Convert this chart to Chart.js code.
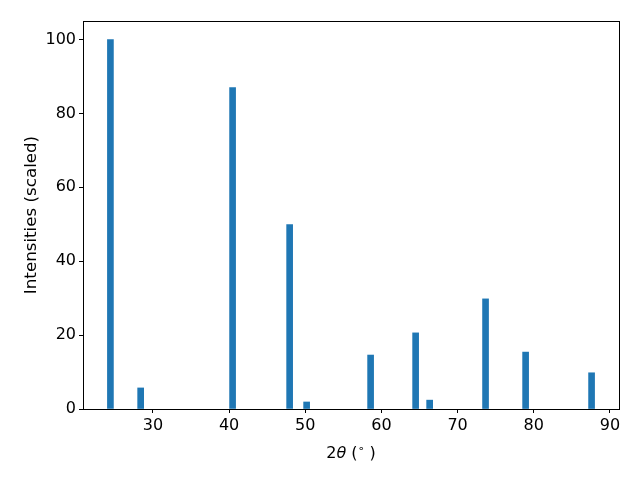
<!DOCTYPE html>
<html>
<head>
<meta charset="utf-8">
<script src="https://cdn.jsdelivr.net/npm/chart.js@4/dist/chart.umd.min.js"></script>
<style>
  html, body { margin: 0; padding: 0; background: #fff; }
  #wrap { width: 640px; height: 480px; }
</style>
</head>
<body>
<div id="wrap"><canvas id="xrd"></canvas></div>
<script>
/* ── Data ──────────────────────────────────────────────────────────────── */
const PEAK_POS    = [24.42, 28.39, 40.46, 47.95, 50.18, 58.58, 64.49, 66.33, 73.67, 78.93, 87.59];
const PEAK_INT    = [100, 5.7, 87.0, 49.9, 1.9, 14.6, 20.6, 2.4, 29.8, 15.4, 9.8];
const X_TICKS     = [30, 40, 50, 60, 70, 80, 90];
const Y_TICKS     = [0, 20, 40, 60, 80, 100];
const Y_LABEL     = 'Intensities (scaled)';

const BLUE = '#1f77b4';
Chart.defaults.font.family = "'DejaVu Sans', sans-serif";
Chart.defaults.color = '#000';

/* ── Frame (top + right spines) ────────────────────────────────────────── */
const framePlugin = {
  id: 'frame',
  afterDraw(chart) {
    const { ctx, chartArea: a } = chart;
    ctx.save();
    ctx.strokeStyle = '#000';
    ctx.lineWidth = 1;
    ctx.strokeRect(Math.round(a.left) + 0.5, Math.round(a.top) + 0.5,
                   Math.round(a.right - a.left), Math.round(a.bottom - a.top));
    ctx.restore();
  }
};

/* ── x label "2θ (°)" with italic theta, raised degree ─────────────────── */
const xLabelPlugin = {
  id: 'xlabel',
  afterDraw(chart) {
    const { ctx, chartArea: a } = chart;
    const parts = [
      { t: '2',  f: '16px "DejaVu Sans"', dy: 0 },
      { t: 'θ',  f: 'italic 16px "DejaVu Sans"', dy: 0 },
      { t: ' (', f: '16px "DejaVu Sans"', dy: 0 },
      { t: '∘',  f: '11px "DejaVu Sans"', dy: -6 },
      { t: ' )', f: '16px "DejaVu Sans"', dy: 0 },
    ];
    ctx.save();
    ctx.fillStyle = '#000';
    ctx.textBaseline = 'alphabetic';
    let total = 0;
    parts.forEach(p => { ctx.font = p.f; p.w = ctx.measureText(p.t).width; total += p.w; });
    let x = (a.left + a.right) / 2 - total / 2;
    const y = 458;
    parts.forEach(p => { ctx.font = p.f; ctx.fillText(p.t, x, y + p.dy); x += p.w; });
    ctx.restore();
  }
};

new Chart(document.getElementById('xrd'), {
  type: 'bar',
  data: {
    datasets: [{
      data: PEAK_POS.map((p, i) => ({ x: p, y: PEAK_INT[i] })),
      backgroundColor: BLUE,
      borderWidth: 0,
      barThickness: 6,
    }]
  },
  options: {
    responsive: true,
    maintainAspectRatio: false,
    animation: false,
    layout: { padding: { top: 21, right: 21, left: 0, bottom: 0 } },
    plugins: { legend: { display: false }, tooltip: { enabled: false } },
    scales: {
      x: {
        type: 'linear',
        offset: false,
        min: 20.82, max: 91.19,
        afterBuildTicks: s => { s.ticks = X_TICKS.map(v => ({ value: v })); },
        afterFit: s => { s.height = 71; },
        ticks: { font: { size: 16 }, padding: 3, maxRotation: 0 },
        grid: { offset: false, drawOnChartArea: false, drawTicks: true, tickLength: 4, color: '#000' },
        border: { display: true, color: '#000', width: 1 },
      },
      y: {
        min: 0, max: 105,
        afterBuildTicks: s => { s.ticks = Y_TICKS.map(v => ({ value: v })); },
        afterFit: s => { s.width = 83; },
        ticks: { font: { size: 16 }, padding: 3 },
        grid: { drawOnChartArea: false, drawTicks: true, tickLength: 4, color: '#000' },
        border: { display: true, color: '#000', width: 1 },
        title: { display: true, text: Y_LABEL, font: { size: 16.7 }, padding: { top: 22, bottom: 0 } },
      }
    }
  },
  plugins: [framePlugin, xLabelPlugin]
});
</script>
</body>
</html>
